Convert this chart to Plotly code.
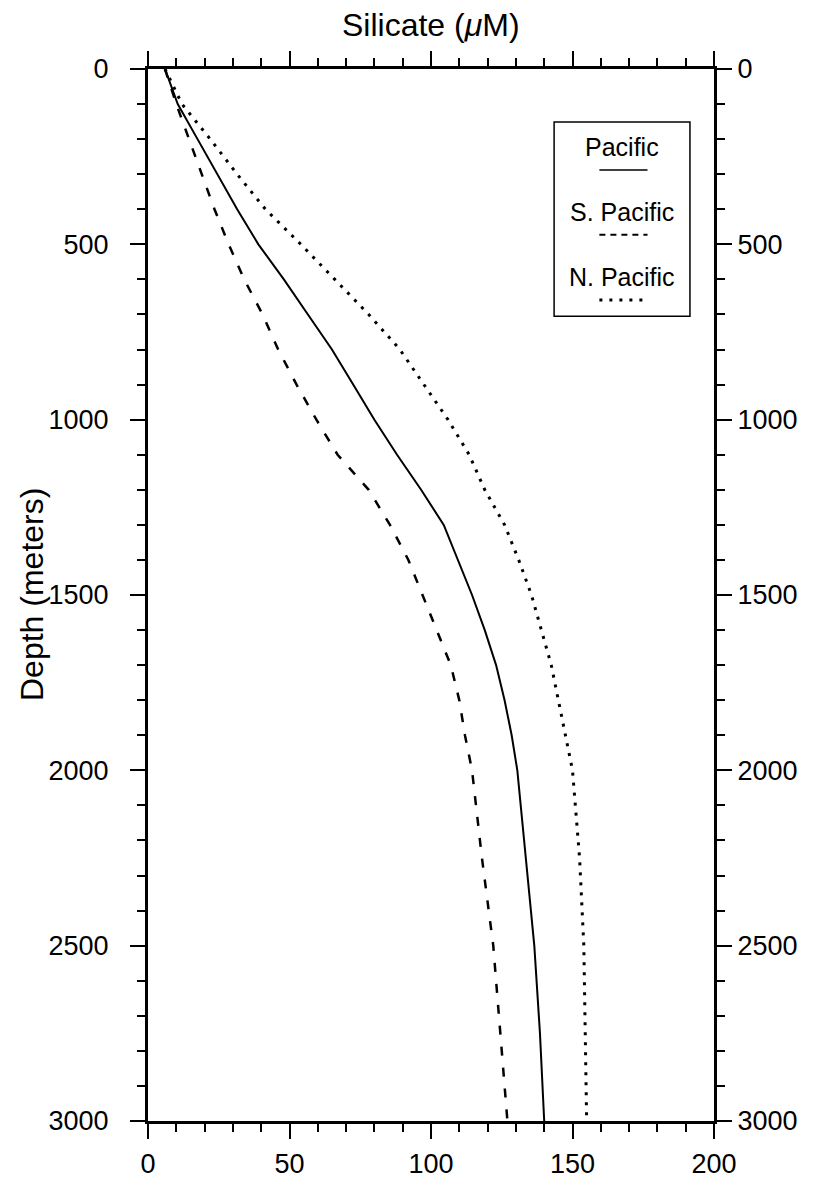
import plotly.graph_objects as go

# Depth grid (m) shared by the three silicate profiles
depth_m = [0, 100, 200, 300, 400, 500, 600, 700, 800, 900, 1000, 1100, 1200,
           1300, 1400, 1500, 1600, 1700, 1800, 1900, 2000, 2250, 2500, 2750, 3000]

# Silicate concentration (uM)
pacific = [6, 10.5, 17.5, 24.5, 31.5, 39, 48, 56.5, 65, 72.5, 80, 88, 96.5,
           104.5, 109.5, 114.5, 119, 123, 126, 128.5, 130.5, 133.5, 136.5, 138.5, 140]
s_pacific = [6, 10, 14.5, 19, 23.5, 28.5, 34, 40.5, 46, 52.5, 59.5, 67, 78,
             85.5, 92, 97, 102, 107, 110, 112, 114.5, 118, 122, 124.5, 127]
n_pacific = [6, 12, 22, 31.5, 41.5, 54, 66, 78, 89, 97.5, 106, 113.5, 119,
             126, 131, 135.5, 139, 142.5, 145, 147.5, 150, 152.5, 154, 154.5, 155]

series_names = ["Pacific", "S. Pacific", "N. Pacific"]
series_dash = ["solid", "9px,12px", "3px,7px"]
series_width = [2, 2.5, 3]

x_ticks = [0, 50, 100, 150, 200]
y_ticks = [0, 500, 1000, 1500, 2000, 2500, 3000]

FONT = "Liberation Sans, Arial, sans-serif"
INK = "black"

fig = go.Figure()

profiles = [pacific, s_pacific, n_pacific]
for i, (name, vals) in enumerate(zip(series_names, profiles)):
    axes = dict(xaxis="x2", yaxis="y2") if i == 2 else {}
    fig.add_trace(go.Scatter(
        x=vals, y=depth_m, mode="lines", name=name,
        line=dict(color=INK, width=series_width[i], dash=series_dash[i]),
        showlegend=False, hoverinfo="skip", **axes))

minor_ticks = dict(ticklen=8, tickwidth=2, tickcolor=INK, ticks="outside")
axis_common = dict(
    showgrid=False, zeroline=False, showline=True, linecolor=INK, linewidth=3,
    ticks="outside", ticklen=15, tickwidth=2, tickcolor=INK, automargin=False,
    tickfont=dict(family=FONT, size=27, color=INK),
)

fig.update_layout(
    width=816, height=1183,
    margin=dict(l=148, r=102, t=69, b=62),
    paper_bgcolor="white", plot_bgcolor="white",
    xaxis=dict(range=[0, 200], tickvals=x_ticks, ticklabelstandoff=2,
               minor=dict(dtick=10, **minor_ticks), **axis_common),
    xaxis2=dict(range=[0, 200], tickvals=x_ticks, overlaying="x", side="top",
                matches="x", showticklabels=False, anchor="y",
                minor=dict(dtick=10, **minor_ticks), **axis_common),
    yaxis=dict(range=[3000, 0], tickvals=y_ticks, ticklabelstandoff=16,
               minor=dict(dtick=100, **minor_ticks), **axis_common),
    yaxis2=dict(range=[3000, 0], tickvals=y_ticks, overlaying="y", side="right",
                matches="y", anchor="x", ticklabelstandoff=0,
                minor=dict(dtick=100, **minor_ticks), **axis_common),
)

# Axis titles
fig.add_annotation(text="Silicate (<i>\u03bc</i>M)", xref="paper", yref="paper",
                   x=0.5, y=1, yanchor="bottom", yshift=24, showarrow=False,
                   font=dict(family=FONT, size=32, color=INK))
fig.add_annotation(text="Depth (meters)", xref="paper", yref="paper",
                   x=0, y=0.5, xanchor="center", xshift=-116, textangle=-90,
                   showarrow=False, font=dict(family=FONT, size=32, color=INK))

# Legend box with the name above each line sample
box_x = [143.5, 191.5]
box_y = [151, 705]
fig.add_shape(type="rect", xref="x", yref="y", x0=box_x[0], x1=box_x[1],
              y0=box_y[0], y1=box_y[1], line=dict(color=INK, width=1.5),
              fillcolor="white", layer="above")
label_depths = [222, 408, 593]
sample_depths = [288, 473, 659]
sample_x = [159.5, 176.5]
sample_dash = ["solid", "6px,5px", "3px,7px"]
sample_width = [1.5, 2, 3]
for i, name in enumerate(series_names):
    fig.add_annotation(text=name, xref="x", yref="y", x=sum(box_x) / 2,
                       y=label_depths[i], showarrow=False,
                       font=dict(family=FONT, size=25, color=INK))
    fig.add_shape(type="line", xref="x", yref="y", x0=sample_x[0], x1=sample_x[1],
                  y0=sample_depths[i], y1=sample_depths[i], layer="above",
                  line=dict(color=INK, width=sample_width[i], dash=sample_dash[i]))

fig.write_html("out.html")
